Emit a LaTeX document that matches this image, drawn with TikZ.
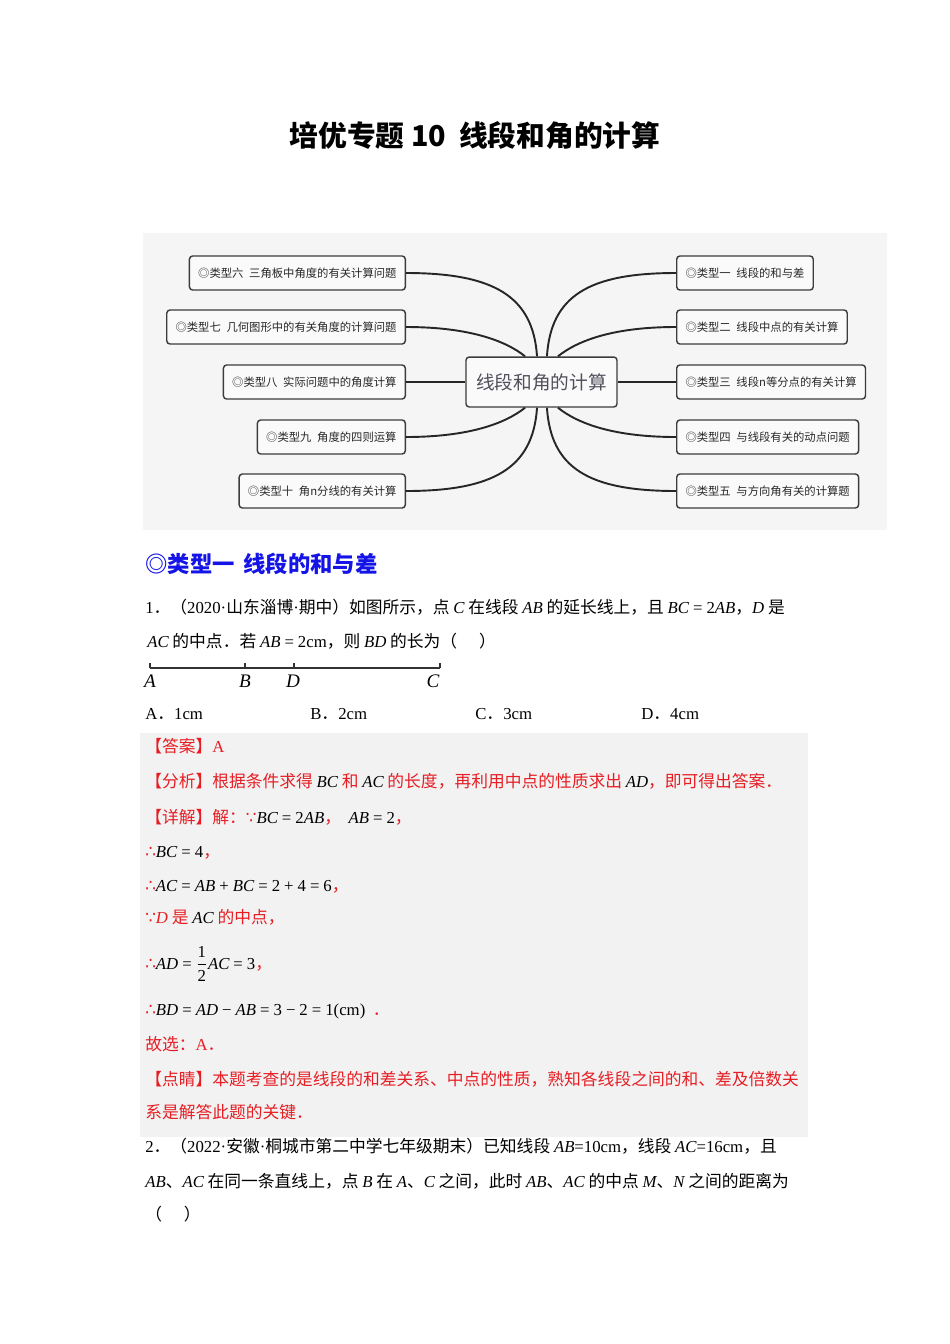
\documentclass[tikz,border=0pt]{standalone}
\usepackage{fontspec}
\setmainfont{Liberation Serif}
\newfontfamily\cjk{Noto Sans CJK SC}
\newfontfamily\dvs{DejaVu Sans}
\definecolor{ansred}{RGB}{230,30,36}
\definecolor{headblue}{RGB}{20,20,230}
\definecolor{mapbg}{RGB}{245,245,245}
\definecolor{ansbg}{RGB}{242,242,242}
\definecolor{boxline}{RGB}{60,60,60}
\definecolor{boxtext}{RGB}{40,40,40}
\definecolor{ctrtext}{RGB}{80,80,92}
\newcommand\xmi[1]{{\color{black}\rmfamily\itshape #1}}
\newcommand\xmt[1]{{\color{black}\rmfamily #1}}
\newcommand\xrt[1]{{\rmfamily #1}}
\newcommand\xop[1]{\hspace{0.24em}{\color{black}\rmfamily #1}\hspace{0.24em}}
\newcommand\xtf{{\dvs ∴}}
\newcommand\xbc{{\dvs ∵}}
\begin{document}
\begin{tikzpicture}[x=0.62661pt,y=-0.62661pt,
  body/.style={anchor=base west,inner sep=0pt,font=\cjk\fontsize{10.5}{12}\selectfont},
  redt/.style={body,text=ansred},
  mapbox/.style={draw=boxline,line width=0.9pt,rounded corners=2pt,fill=white!50!mapbg,
    minimum height=21.3pt,inner xsep=5.5pt,inner ysep=0pt,font=\cjk\fontsize{7.1}{8}\selectfont,text=boxtext},
  link/.style={draw=black!85,line width=1.2pt},
  seglabel/.style={anchor=base,inner sep=0pt,font=\rmfamily\itshape\fontsize{12}{14}\selectfont}]
\useasboundingbox (0,0) rectangle (950,1344);
\fill[white] (0,0) rectangle (950,1344);

% title
\node[anchor=base,inner sep=0pt,font=\cjk\bfseries\fontsize{18}{20}\selectfont] (title) at (475,146)
  {培优专题 10\hspace{0.45em}线段和角的计算};

% mind map
\fill[mapbg] (143,233) rectangle (887,530);
\node[draw=boxline,line width=0.9pt,rounded corners=2pt,fill=white!50!mapbg,minimum width=94.6pt,
  minimum height=31.3pt,inner sep=0pt,font=\cjk\fontsize{11.7}{13}\selectfont,text=ctrtext] (ctr) at (541.5,382) {线段和角的计算};

\node[mapbox,anchor=east] (k6) at (406,273) {◎类型六\hspace{0.5em}三角板中角度的有关计算问题};
\node[mapbox,anchor=east] (k7) at (406,327) {◎类型七\hspace{0.5em}几何图形中的有关角度的计算问题};
\node[mapbox,anchor=east] (k8) at (406,382) {◎类型八\hspace{0.5em}实际问题中的角度计算};
\node[mapbox,anchor=east] (k9) at (406,437) {◎类型九\hspace{0.5em}角度的四则运算};
\node[mapbox,anchor=east] (k10) at (406,491) {◎类型十\hspace{0.5em}角n分线的有关计算};

\node[mapbox,anchor=west] (k1) at (676,273) {◎类型一\hspace{0.5em}线段的和与差};
\node[mapbox,anchor=west] (k2) at (676,327) {◎类型二\hspace{0.5em}线段中点的有关计算};
\node[mapbox,anchor=west] (k3) at (676,382) {◎类型三\hspace{0.5em}线段n等分点的有关计算};
\node[mapbox,anchor=west] (k4) at (676,437) {◎类型四\hspace{0.5em}与线段有关的动点问题};
\node[mapbox,anchor=west] (k5) at (676,491) {◎类型五\hspace{0.5em}与方向角有关的计算题};

\draw[link] (k6.east) .. controls +(88,0) and +(-4,-60) .. ([xshift=-2.8pt]ctr.north);
\draw[link] (k7.east) .. controls +(62,0) and +(-20,-16) .. ([xshift=-10.3pt]ctr.north);
\draw[link] (k8.east) -- (ctr.west);
\draw[link] (k9.east) .. controls +(62,0) and +(-20,16) .. ([xshift=-10.3pt]ctr.south);
\draw[link] (k10.east) .. controls +(88,0) and +(-4,60) .. ([xshift=-2.8pt]ctr.south);
\draw[link] (k1.west) .. controls +(-88,0) and +(4,-60) .. ([xshift=3.4pt]ctr.north);
\draw[link] (k2.west) .. controls +(-62,0) and +(20,-16) .. ([xshift=10.3pt]ctr.north);
\draw[link] (k3.west) -- (ctr.east);
\draw[link] (k4.west) .. controls +(-62,0) and +(20,16) .. ([xshift=10.3pt]ctr.south);
\draw[link] (k5.west) .. controls +(-88,0) and +(4,60) .. ([xshift=3.4pt]ctr.south);

% section heading
\node[anchor=base west,inner sep=0pt,font=\cjk\bfseries\fontsize{14}{16}\selectfont,text=headblue] (head) at (145,572)
  {◎类型一\hspace{0.4em}线段的和与差};

% question 1
\node[body] (q1a) at (145,613) {\xrt{1}．（\xrt{2020·}山东淄博\xrt{·}期中）如图所示，点 \xmi{C} 在线段 \xmi{AB} 的延长线上，且 \xmi{BC}\xop{=}\xmt{2}\xmi{AB}，\xmi{D} 是};
\node[body] (q1b) at (147,647) {\xmi{AC} 的中点．若 \xmi{AB}\xop{=}\xmt{2cm}，则 \xmi{BD} 的长为（\hspace{1.3em}）};

% segment figure
\coordinate (pA) at (150,668);
\coordinate (pB) at (245,668);
\coordinate (pD) at (294,668);
\coordinate (pC) at (440,668);
\draw[line width=0.7pt,black!80] (pA) -- (pC);
\foreach \p in {pA,pB,pD,pC} \draw[line width=0.7pt,black!80] (\p) -- ++(0,-5);
\node[seglabel] (lA) at (150,687) {A};
\node[seglabel] (lB) at (245,687) {B};
\node[seglabel] (lD) at (293,687) {D};
\node[seglabel] (lC) at (433,687) {C};

% options
\node[body] (oA) at (145,719) {\xrt{A}．\xrt{1cm}};
\node[body] (oB) at (310,719) {\xrt{B}．\xrt{2cm}};
\node[body] (oC) at (475,719) {\xrt{C}．\xrt{3cm}};
\node[body] (oD) at (641,719) {\xrt{D}．\xrt{4cm}};

% answer block
\fill[ansbg] (140,733) rectangle (808,1137);
\node[redt] (ans) at (145,752) {【答案】\xrt{A}};
\node[redt] (ana) at (145,787) {【分析】根据条件求得 \xmi{BC} 和 \xmi{AC} 的长度，再利用中点的性质求出 \xmi{AD}，即可得出答案．};
\node[redt] (det) at (145,823) {【详解】解：\xbc\xmi{BC}\xop{=}\xmt{2}\xmi{AB}，\ \ \xmi{AB}\xop{=}\xmt{2}，};
\node[redt] (s1) at (145,857) {\xtf\xmi{BC}\xop{=}\xmt{4}，};
\node[redt] (s2) at (145,891) {\xtf\xmi{AC}\xop{=}\xmi{AB}\xop{+}\xmi{BC}\xop{=}\xmt{2}\xop{+}\xmt{4}\xop{=}\xmt{6}，};
\node[redt] (s3) at (145,923) {\xbc{\rmfamily\itshape D} 是 \xmi{AC} 的中点，};
\node[redt] (s4) at (145,969) {\xtf\xmi{AD}\xop{=}{\color{black}$\displaystyle\frac{\mbox{\rmfamily 1}}{\mbox{\rmfamily 2}}$}\xmi{AC}\xop{=}\xmt{3}，};
\node[redt] (s5) at (145,1015) {\xtf\xmi{BD}\xop{=}\xmi{AD}\xop{−}\xmi{AB}\xop{=}\xmt{3}\xop{−}\xmt{2}\xop{=}\xmt{1(cm)}\ \ ．};
\node[redt] (s6) at (145,1050) {故选：\xrt{A}．};
\node[redt] (s7) at (145,1085) {【点睛】本题考查的是线段的和差关系、中点的性质，熟知各线段之间的和、差及倍数关};
\node[redt] (s8) at (145,1118) {系是解答此题的关键．};

% question 2
\node[body] (q2a) at (145,1152) {\xrt{2}．（\xrt{2022·}安徽\xrt{·}桐城市第二中学七年级期末）已知线段 \xmi{AB}\xmt{=10cm}，线段 \xmi{AC}\xmt{=16cm}，且};
\node[body] (q2b) at (145,1187) {\xmi{AB}、\xmi{AC} 在同一条直线上，点 \xmi{B} 在 \xmi{A}、\xmi{C} 之间，此时 \xmi{AB}、\xmi{AC} 的中点 \xmi{M}、\xmi{N} 之间的距离为};
\node[body] (q2c) at (145,1220) {（\hspace{1.3em}）};
\end{tikzpicture}
\end{document}
